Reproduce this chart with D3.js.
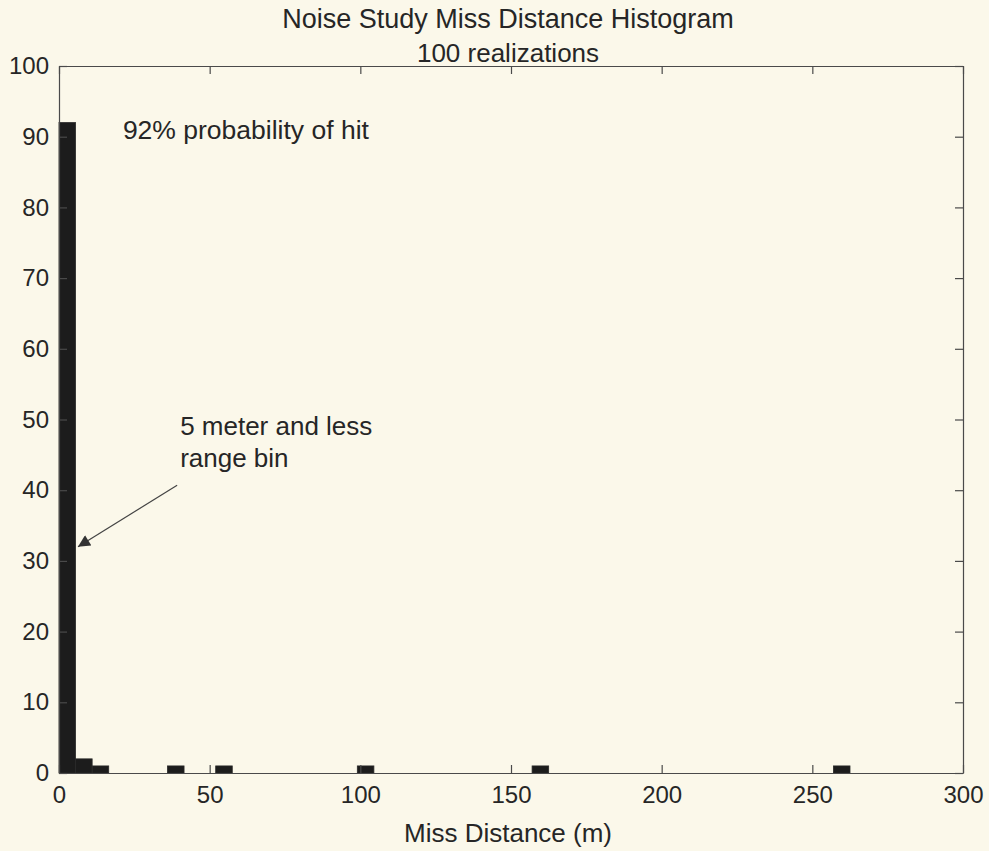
<!DOCTYPE html>
<html><head><meta charset="utf-8">
<script src="https://cdn.jsdelivr.net/npm/d3@7/dist/d3.min.js"></script>
<style>
body{margin:0;background:#fbf8ea;}
svg text{font-family:"Liberation Sans",Arial,Helvetica,sans-serif;fill:#262626;}
</style></head><body>
<svg id="chart" width="989" height="851"></svg>
<script>
// ---- data ----
const binStart = [0, 5.5, 11, 36, 52, 99, 157, 257];
const binEnd   = [5.5, 11, 16.5, 41.5, 57.5, 104.5, 162.5, 262.5];
const counts   = [92, 2, 1, 1, 1, 1, 1, 1];
const xTicks = [0, 50, 100, 150, 200, 250, 300];
const yTicks = [0, 10, 20, 30, 40, 50, 60, 70, 80, 90, 100];
const titleLines = ["Noise Study Miss Distance Histogram", "100 realizations"];
const xLabel = "Miss Distance (m)";
const noteHit = {text: "92% probability of hit", x: 21.2, y: 89.7};
const noteBin = {lines: ["5 meter and less", "range bin"], x: 40.2, y: 47.8};
const arrowFrom = [39.2, 40.7];
const arrowTo = [6.3, 32];

// ---- layout ----
const W = 989, H = 851;
const m = {left: 59, right: 26, top: 66, bottom: 78};
const svg = d3.select("#chart");
svg.append("rect").attr("width", W).attr("height", H).attr("fill", "#fbf8ea");

const x = d3.scaleLinear().domain([0, 300]).range([m.left, W - m.right]);
const y = d3.scaleLinear().domain([0, 100]).range([H - m.bottom, m.top]);
const axisColor = "#4a4a4a";

// bars
const bins = counts.map((c, i) => ({x0: binStart[i], x1: binEnd[i], c}));
svg.append("g").selectAll("rect").data(bins).join("rect")
  .attr("x", d => x(d.x0))
  .attr("width", d => x(d.x1) - x(d.x0))
  .attr("y", d => y(d.c))
  .attr("height", d => y(0) - y(d.c))
  .attr("fill", "#1c1c1c")
  .attr("stroke", "#2a2a2a").attr("stroke-width", 0.8);

// axes (MATLAB-style inward ticks, box)
const tl = 8;
const gx = svg.append("g").attr("transform", `translate(0,${y(0)})`)
  .call(d3.axisBottom(x).tickValues(xTicks).tickSizeInner(-tl).tickSizeOuter(0).tickPadding(13));
const gxt = svg.append("g").attr("transform", `translate(0,${y(100)})`)
  .call(d3.axisTop(x).tickValues(xTicks).tickSizeInner(-tl).tickSizeOuter(0).tickFormat(""));
const gy = svg.append("g").attr("transform", `translate(${x(0)},0)`)
  .call(d3.axisLeft(y).tickValues(yTicks).tickSizeInner(-tl).tickSizeOuter(0).tickPadding(10));
const gyr = svg.append("g").attr("transform", `translate(${x(300)},0)`)
  .call(d3.axisRight(y).tickValues(yTicks).tickSizeInner(-tl).tickSizeOuter(0).tickFormat(""));
[gx, gxt, gy, gyr].forEach(g => {
  g.select(".domain").attr("stroke", axisColor).attr("stroke-width", 1.2);
  g.selectAll(".tick line").attr("stroke", axisColor).attr("stroke-width", 1.2);
  g.selectAll(".tick text").attr("font-size", 24).attr("fill", "#262626")
    .attr("font-family", '"Liberation Sans",Arial,sans-serif');
});
gx.selectAll(".tick text").attr("dy", "0.71em");

// titles
const cx = (x(0) + x(300)) / 2 - 3;
svg.append("text").attr("x", cx).attr("y", 28).attr("text-anchor", "middle")
  .attr("font-size", 27).text(titleLines[0]);
svg.append("text").attr("x", cx).attr("y", 62).attr("text-anchor", "middle")
  .attr("font-size", 26).text(titleLines[1]);
svg.append("text").attr("x", cx).attr("y", 842).attr("text-anchor", "middle")
  .attr("font-size", 26).text(xLabel);

// annotations
svg.append("text").attr("x", x(noteHit.x)).attr("y", y(noteHit.y))
  .attr("font-size", 26.5).text(noteHit.text);
noteBin.lines.forEach((t, i) => {
  svg.append("text").attr("x", x(noteBin.x)).attr("y", y(noteBin.y) + i * 32)
    .attr("font-size", 26).text(t);
});
svg.append("defs").append("marker").attr("id", "ah")
  .attr("viewBox", "0 0 10 10").attr("refX", 10).attr("refY", 5)
  .attr("markerWidth", 16).attr("markerHeight", 12).attr("markerUnits", "userSpaceOnUse")
  .attr("orient", "auto")
  .append("path").attr("d", "M0,0 L10,5 L0,10 Z").attr("fill", "#333");
svg.append("line")
  .attr("x1", x(arrowFrom[0])).attr("y1", y(arrowFrom[1]))
  .attr("x2", x(arrowTo[0])).attr("y2", y(arrowTo[1]))
  .attr("stroke", "#444").attr("stroke-width", 1.2)
  .attr("marker-end", "url(#ah)");
</script>
</body></html>
